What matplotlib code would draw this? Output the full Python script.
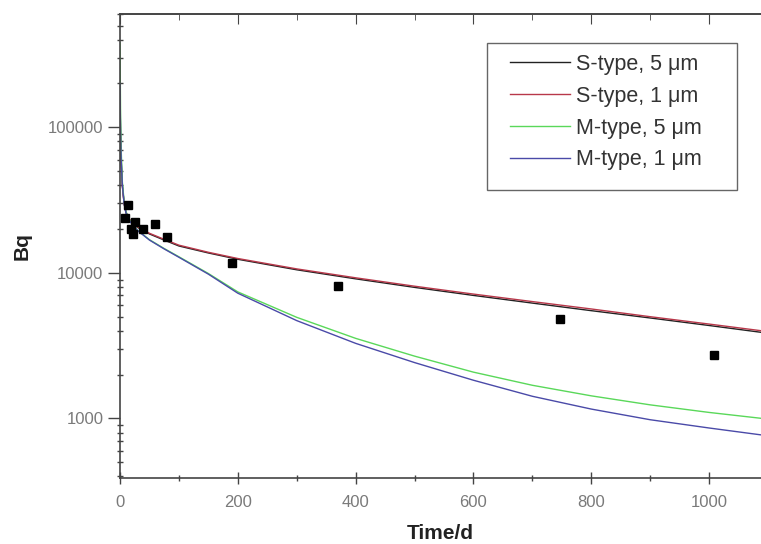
"""
Activity retention curves (Bq vs time) with measured points.
"""

import matplotlib
matplotlib.use('Agg')
import matplotlib.pyplot as plt
from matplotlib.patches import Rectangle
from matplotlib.ticker import LogLocator, MultipleLocator, NullFormatter, FuncFormatter

plt.rcParams['font.family'] = ['Liberation Sans', 'DejaVu Sans']

# Measured data (days, Bq)
meas_t = [8.5, 13.6, 18.7, 22, 25, 39, 59, 80, 190, 370, 746, 1009]
meas_bq = [23700, 29100, 19900, 18400, 22200, 19900, 21500, 17500, 11600, 8070, 4790, 2710]

# Model curves
curve_t = [0, 1, 2, 4, 7, 10, 15, 20, 30, 50, 75, 100, 150, 200,
           300, 400, 500, 600, 700, 800, 900, 1000, 1100]
s_type_5um = [150000, 90000, 60000, 40000, 30000, 26000, 23500, 22000, 20500, 18500,
              16800, 15300, 13700, 12400, 10500, 9100, 7950, 7000, 6200, 5500,
              4900, 4350, 3850]
s_type_1um = [100000, 80000, 57000, 39000, 30000, 26200, 23700, 22200, 20700, 18700,
              17000, 15500, 13850, 12550, 10650, 9250, 8100, 7150, 6350, 5650,
              5000, 4450, 3950]
m_type_5um = [380000, 120000, 70000, 42000, 31000, 26500, 23500, 21900, 19600, 16900,
              14700, 12900, 9900, 7400, 4950, 3550, 2680, 2080, 1690, 1430,
              1240, 1100, 990]
m_type_1um = [200000, 90000, 60000, 40000, 30000, 26000, 23200, 21700, 19500, 16800,
              14600, 12800, 9800, 7250, 4700, 3280, 2420, 1830, 1420, 1160,
              980, 860, 760]

series_labels = ['S-type, 5 \u03bcm', 'S-type, 1 \u03bcm', 'M-type, 5 \u03bcm', 'M-type, 1 \u03bcm']
series_colors = ['#222222', '#b8384a', '#5ad85a', '#4a4aa8']

W, H = 761, 544
fig = plt.figure(figsize=(W / 100, H / 100), dpi=100)
ax = fig.add_axes([120 / W, 66 / H, 641 / W, 464 / H])

for vals, lab, col in zip([s_type_5um, s_type_1um, m_type_5um, m_type_1um],
                          series_labels, series_colors):
    ax.plot(curve_t, vals, color=col, linewidth=1.0, label=lab)

ax.plot(meas_t, meas_bq, linestyle='none', marker='s', markersize=6,
        color='black', zorder=5)

ax.set_yscale('log')
ax.set_xlim(0, 1088)
ax.set_ylim(390, 600000)

ax.xaxis.set_major_locator(MultipleLocator(200))
ax.xaxis.set_minor_locator(MultipleLocator(100))
ax.yaxis.set_major_locator(LogLocator(base=10, numticks=10))
ax.yaxis.set_minor_locator(LogLocator(base=10, subs=range(2, 10), numticks=20))
ax.yaxis.set_minor_formatter(NullFormatter())
ax.yaxis.set_major_formatter(FuncFormatter(lambda v, p: f'{int(round(v))}'))

tick_col = '#444444'
ax.tick_params(axis='both', which='both', labelsize=12, labelcolor='#7a7a7a',
               color=tick_col, width=1)
ax.tick_params(axis='x', which='major', direction='inout', length=8, pad=8)
ax.tick_params(axis='x', which='minor', direction='inout', length=4)
ax.tick_params(axis='y', which='major', direction='out', length=9, pad=3)
ax.tick_params(axis='y', which='minor', direction='inout', length=5)

# top axis carries ticks only
top = ax.secondary_xaxis('top')
top.xaxis.set_major_locator(MultipleLocator(200))
top.xaxis.set_minor_locator(MultipleLocator(100))
top.tick_params(which='major', direction='in', length=7, color=tick_col, labeltop=False)
top.tick_params(which='minor', direction='in', length=4, color=tick_col)
top.spines['top'].set_color(tick_col)
top.spines['top'].set_linewidth(1.2)

for side in ['left', 'bottom', 'top']:
    ax.spines[side].set_color(tick_col)
    ax.spines[side].set_linewidth(1.2)
ax.spines['right'].set_visible(False)

ax.set_xlabel('Time/d', fontsize=15, fontweight='bold', color='#222222', labelpad=10)
ax.set_ylabel('Bq', fontsize=15, fontweight='bold', color='#222222', labelpad=12)

# legend frame drawn separately so its size matches the original
frame = Rectangle((487 / W, 1 - 190 / H), 250 / W, 147 / H,
                  transform=fig.transFigure, facecolor='white',
                  edgecolor='#666666', linewidth=1.0, zorder=4, clip_on=False)
ax.add_patch(frame)
leg = ax.legend(loc='upper left', bbox_to_anchor=(510 / W, 1 - 54 / H),
                bbox_transform=fig.transFigure, fontsize=15.5, frameon=False,
                handlelength=2.8, handletextpad=0.25, labelspacing=0.5,
                borderpad=0, borderaxespad=0)
leg.set_zorder(6)
for t in leg.get_texts():
    t.set_color('#333333')

plt.savefig('out.png', dpi=100)
